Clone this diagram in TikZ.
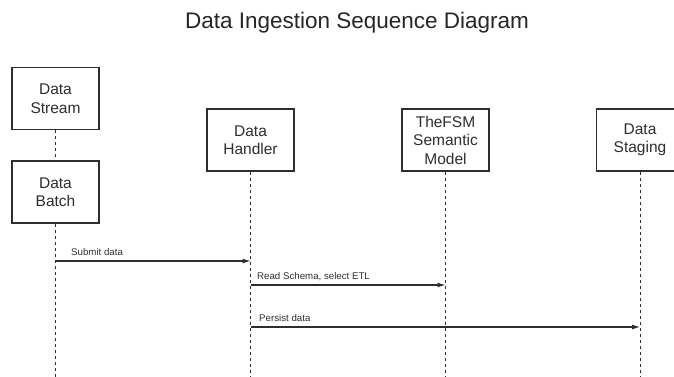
\documentclass[tikz,border=0pt]{standalone}
\usepackage{fontspec}
\setmainfont{Liberation Sans}
\usetikzlibrary{arrows.meta}
\definecolor{ink}{HTML}{2E2E2E}
\tikzset{
  actor/.style={draw=ink, line width=1.3pt, fill=white, minimum width=87pt, minimum height=62pt,
    align=center, font=\fontsize{15.5}{18.5}\selectfont, text=ink, inner sep=0pt},
  lifeline/.style={draw=ink, line width=1pt, dash pattern=on 3pt off 3pt},
  msg/.style={draw=ink, line width=1.1pt, -{Latex[length=8pt,width=5pt]}},
  msglabel/.style={font=\fontsize{9.7}{11}\selectfont, text=ink, anchor=base west, inner sep=0pt}
}
\begin{document}
\begin{tikzpicture}[x=1pt,y=-1pt]
\useasboundingbox (0,0) rectangle (674,377);
\clip (0,0) rectangle (674,377);
\node[font=\fontsize{22.5}{26}\selectfont, text=black!85, anchor=base] (title) at (357,29) {Data Ingestion Sequence Diagram};
\node[actor] (stream) at (55.5,98.5) {Data\\Stream};
\node[actor] (batch) at (55.5,192) {Data\\Batch};
\node[actor] (handler) at (250.5,140) {Data\\Handler};
\node[actor] (fsm) at (445.5,140) {TheFSM\\Semantic\\Model};
\node[actor] (staging) at (640,140) {Data\\Staging};
\coordinate (eb) at (55.5,377);
\coordinate (eh) at (250.5,377);
\coordinate (ef) at (445.5,377);
\coordinate (es) at (640,377);
\draw[lifeline] (stream.south) -- (batch.north);
\draw[lifeline] (batch.south) -- (eb);
\draw[lifeline] (handler.south) -- (eh);
\draw[lifeline] (fsm.south) -- (ef);
\draw[lifeline] (staging.south) -- (es);
\coordinate (m1s) at (55.5,261);
\coordinate (m1e) at (250.5,261);
\coordinate (m2s) at (250.5,285);
\coordinate (m2e) at (445.5,285);
\coordinate (m3s) at (250.5,327);
\coordinate (m3e) at (640,327);
\draw[msg] (m1s) -- (m1e);
\draw[msg] (m2s) -- (m2e);
\draw[msg] (m3s) -- (m3e);
\node[msglabel] (l1) at (71,255) {Submit data};
\node[msglabel] (l2) at (257,279) {Read Schema, select ETL};
\node[msglabel] (l3) at (259,321) {Persist data};
\end{tikzpicture}
\end{document}
